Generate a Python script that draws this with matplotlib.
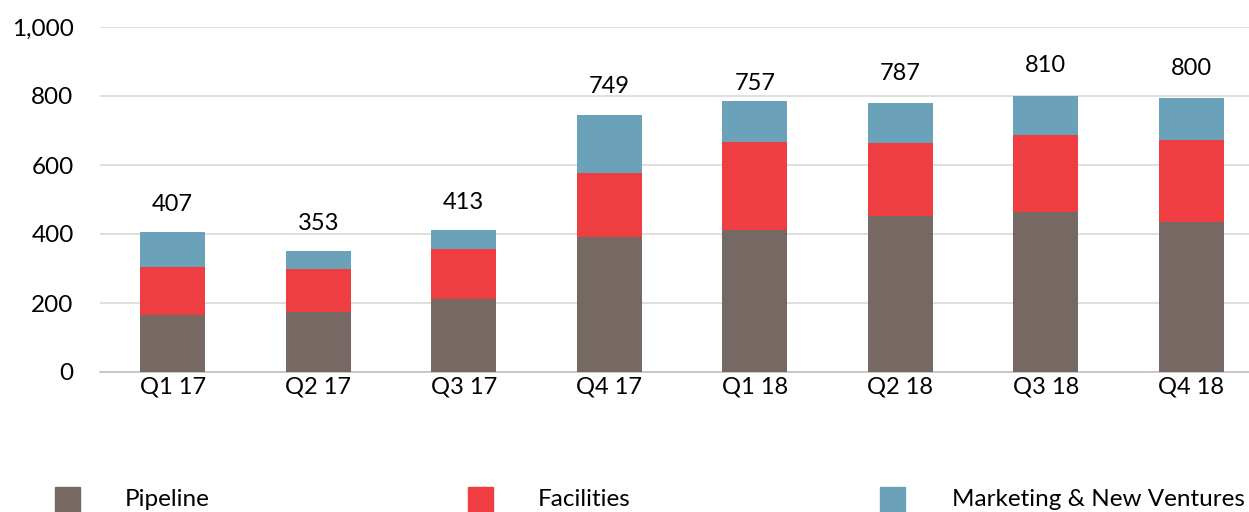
import matplotlib
matplotlib.use("Agg")
import matplotlib.pyplot as plt
from matplotlib.patches import Rectangle

categories = ["Q1 17", "Q2 17", "Q3 17", "Q4 17", "Q1 18", "Q2 18", "Q3 18", "Q4 18"]
pipeline = [166, 173, 212, 390, 413, 451, 465, 434]
facilities = [138, 127, 144, 188, 255, 214, 223, 239]
marketing = [101, 50, 57, 168, 118, 115, 113, 122]
total_labels = [407, 353, 413, 749, 757, 787, 810, 800]
series_names = ["Pipeline", "Facilities", "Marketing & New Ventures"]
colors = ["#766963", "#EE3E42", "#6BA2B9"]

plt.rcParams['font.family'] = ['Lato', 'DejaVu Sans']

W, H = 1249, 512
fig = plt.figure(figsize=(W / 100, H / 100), dpi=100)
left, right = 100 / W, 1264 / W
bottom, top = (H - 372) / H, (H - 27) / H
ax = fig.add_axes([left, bottom, right - left, top - bottom])

x = list(range(len(categories)))
width = 0.45
b2 = [p for p in pipeline]
b3 = [p + f for p, f in zip(pipeline, facilities)]
ax.bar(x, pipeline, width, color=colors[0], zorder=3)
ax.bar(x, facilities, width, bottom=b2, color=colors[1], zorder=3)
ax.bar(x, marketing, width, bottom=b3, color=colors[2], zorder=3)

for i, v in enumerate(total_labels):
    ax.annotate(f"{v}", (i, v), xytext=(0, 19.5), textcoords='offset points',
                ha='center', va='center', fontsize=17, color='#000000')

ax.set_xlim(-0.5, len(categories) - 0.5)
ax.set_ylim(0, 1000)
ax.set_yticks(range(0, 1001, 200))
ax.set_yticklabels([f"{t:,}" for t in range(0, 1001, 200)], fontsize=17.5)
ax.set_xticks(x)
ax.set_xticklabels(categories, fontsize=17)
ax.tick_params(axis='y', length=0, pad=19)
ax.tick_params(axis='x', length=0, pad=3)
ax.yaxis.grid(True, color='#D9D9D9', linewidth=1.2, zorder=0)
ax.set_axisbelow(True)
for s in ['top', 'right', 'left']:
    ax.spines[s].set_visible(False)
ax.spines['bottom'].set_color('#BFBFBF')
ax.spines['bottom'].set_linewidth(1.2)

# legend
leg_x = [55, 468, 880]
text_x = [125, 538, 952]
for lx, tx, name, c in zip(leg_x, text_x, series_names, colors):
    fig.patches.append(Rectangle((lx / W, (H - 512) / H), 25 / W, 25 / H,
                                 transform=fig.transFigure, color=c))
    fig.text(tx / W, (H - 500) / H, name, fontsize=17.5, va='center', ha='left')

fig.savefig("out.png", dpi=100)
